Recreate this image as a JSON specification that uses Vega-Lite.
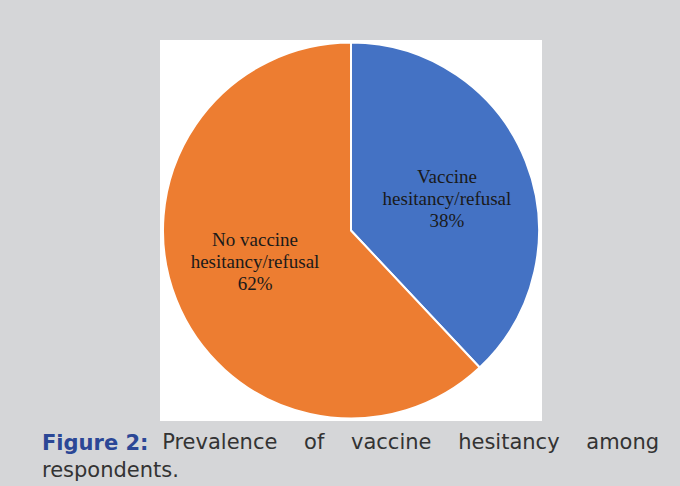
{
  "$schema": "https://vega.github.io/schema/vega-lite/v6.json",
  "width": 382,
  "height": 381,
  "autosize": {"type": "none"},
  "padding": {"left": 160, "top": 40, "right": 138, "bottom": 65},
  "background": "#d5d6d8",
  "view": {"fill": "white", "stroke": null},
  "config": {"view": {"fill": "white", "stroke": null}},
  "title": {
    "text": "Figure 2:",
    "orient": "bottom",
    "anchor": "start",
    "frame": "group",
    "dx": -118,
    "offset": 10,
    "font": "DejaVu Sans",
    "fontSize": 21,
    "fontWeight": "bold",
    "color": "#2b4796",
    "lineHeight": 28,
    "subtitle": [
      "\u200b\u00a0\u00a0\u00a0\u00a0\u00a0\u00a0\u00a0\u00a0\u00a0\u00a0\u00a0\u00a0\u00a0\u00a0\u00a0\u00a0\u00a0\u00a0Prevalence\u00a0\u00a0\u00a0\u00a0of\u00a0\u00a0\u00a0\u00a0vaccine\u00a0\u00a0\u00a0\u00a0hesitancy\u00a0\u00a0\u00a0\u00a0among",
      "respondents."
    ],
    "subtitleFont": "DejaVu Sans",
    "subtitleFontSize": 21,
    "subtitleFontWeight": "normal",
    "subtitleColor": "#333333",
    "subtitleLineHeight": 28,
    "subtitlePadding": -22
  },
  "data": {
    "values": [
      {"category": "Vaccine hesitancy/refusal", "label": "Vaccine\nhesitancy/refusal\n38%", "value": 38, "order": 1},
      {"category": "No vaccine hesitancy/refusal", "label": "No vaccine\nhesitancy/refusal\n62%", "value": 62, "order": 2}
    ]
  },
  "encoding": {
    "theta": {"field": "value", "type": "quantitative", "stack": true},
    "order": {"field": "order", "type": "quantitative"}
  },
  "layer": [
    {
      "mark": {"type": "arc", "outerRadius": 188, "stroke": "white", "strokeWidth": 2},
      "encoding": {
        "color": {
          "field": "category",
          "type": "nominal",
          "scale": {"domain": ["Vaccine hesitancy/refusal", "No vaccine hesitancy/refusal"], "range": ["#4472C4", "#ED7D31"]},
          "legend": null
        }
      }
    },
    {
      "mark": {"type": "text", "radius": 101, "thetaOffset": 0.06, "dy": -22, "lineBreak": "\n", "font": "Liberation Serif", "fontSize": 19, "lineHeight": 22, "color": "#1a1a1a", "align": "center", "baseline": "middle"},
      "encoding": {"text": {"field": "label", "type": "nominal"}}
    }
  ]
}
